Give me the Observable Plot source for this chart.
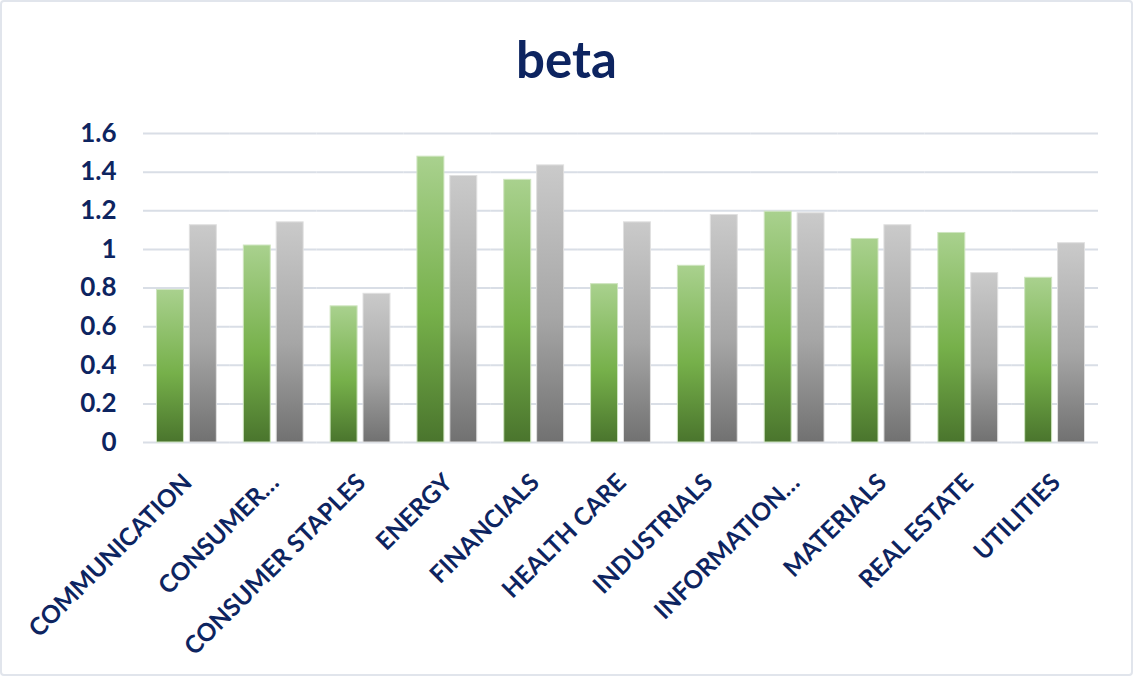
<!DOCTYPE html>
<html><head><meta charset="utf-8">
<script src="https://cdn.jsdelivr.net/npm/d3@7"></script>
<script src="https://cdn.jsdelivr.net/npm/@observablehq/plot@0.6"></script>
<style>
body{margin:0;background:#fff;font-family:Lato,sans-serif;}
#frame{position:absolute;left:0;top:0;width:1133px;height:676px;box-sizing:border-box;border:2px solid #e1e5ec;border-radius:4px;pointer-events:none;}
#title{position:absolute;left:0;top:34px;width:1133px;text-align:center;font:700 51px/50px Lato,sans-serif;color:#0d2460;}
#chart{position:absolute;left:0;top:100px;}
</style></head><body>
<div id="title">beta</div>
<div id="chart"></div>
<div id="frame"></div>
<script>
const sectors = ["COMMUNICATION", "CONSUMER…", "CONSUMER STAPLES", "ENERGY", "FINANCIALS", "HEALTH CARE", "INDUSTRIALS", "INFORMATION…", "MATERIALS", "REAL ESTATE", "UTILITIES"];
const seriesNames = ["Series 1", "Series 2"];
const series1 = [0.79, 1.02, 0.705, 1.48, 1.36, 0.82, 0.915, 1.195, 1.054, 1.085, 0.853];
const series2 = [1.125, 1.14, 0.77, 1.38, 1.435, 1.14, 1.178, 1.187, 1.125, 0.877, 1.032];
const yTicks = [0, 0.2, 0.4, 0.6, 0.8, 1, 1.2, 1.4, 1.6];

const rows1 = sectors.map((s, i) => ({sector: s, series: seriesNames[0], beta: series1[i]}));
const rows2 = sectors.map((s, i) => ({sector: s, series: seriesNames[1], beta: series2[i]}));
const navy = "#0d2460";

const plot = Plot.plot({
  width: 1133, height: 576,
  marginTop: 33, marginBottom: 234, marginLeft: 143, marginRight: 35,
  style: {fontFamily: "Lato, sans-serif", color: navy, background: "transparent"},
  fx: {domain: sectors, paddingInner: 0, paddingOuter: 0, round: false, label: null},
  x: {domain: seriesNames, paddingInner: 0.18, paddingOuter: 0.41, round: false, axis: null},
  y: {domain: [0, 1.6], axis: null},
  marks: [
    Plot.ruleY(yTicks, {stroke: "#d9dee6", strokeWidth: 2}),
    Plot.barY(rows1, {fx: "sector", x: "series", y: "beta", fill: "url(#gradGreen)", stroke: "#cfe5c0", strokeWidth: 1}),
    Plot.barY(rows2, {fx: "sector", x: "series", y: "beta", fill: "url(#gradGray)", stroke: "#e0e0e0", strokeWidth: 1}),
    Plot.axisY(yTicks, {tickSize: 0, tickPadding: 27, fontSize: 26, fontWeight: 700, tickFormat: d3.format("~g"), label: null}),
    Plot.axisFx({anchor: "bottom", tickRotate: -45, tickSize: 0, tickPadding: 36, dx: 1, fontSize: 24.5, fontWeight: 700, label: null})
  ]
});

const svg = d3.select(plot.tagName.toLowerCase() === "svg" ? plot : plot.querySelector("svg"));
const defs = svg.insert("defs", ":first-child");
const g1 = defs.append("linearGradient").attr("id", "gradGreen").attr("x1", 0).attr("y1", 0).attr("x2", 0).attr("y2", 1);
g1.append("stop").attr("offset", "0%").attr("stop-color", "#a9d18e");
g1.append("stop").attr("offset", "55%").attr("stop-color", "#76b04a");
g1.append("stop").attr("offset", "100%").attr("stop-color", "#4a752d");
const g2 = defs.append("linearGradient").attr("id", "gradGray").attr("x1", 0).attr("y1", 0).attr("x2", 0).attr("y2", 1);
g2.append("stop").attr("offset", "0%").attr("stop-color", "#cacaca");
g2.append("stop").attr("offset", "55%").attr("stop-color", "#a6a6a6");
g2.append("stop").attr("offset", "100%").attr("stop-color", "#717171");

document.getElementById("chart").appendChild(plot);
</script>
</body></html>
